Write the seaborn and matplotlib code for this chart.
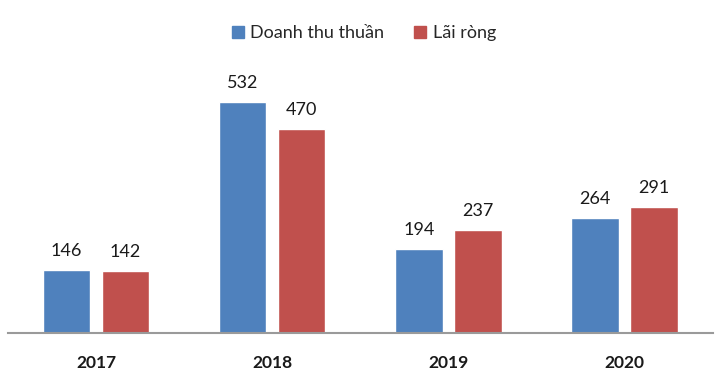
import matplotlib
matplotlib.use("Agg")
import matplotlib.pyplot as plt
import seaborn as sns
import pandas as pd
from matplotlib.lines import Line2D

years = ["2017", "2018", "2019", "2020"]
series_names = ["Doanh thu thuần", "Lãi ròng"]
doanh_thu = [146, 532, 194, 264]
lai_rong = [142, 470, 237, 291]
colors = ["#4F81BD", "#C0504D"]

df = pd.DataFrame({
    "year": years * 2,
    "series": [series_names[0]] * len(years) + [series_names[1]] * len(years),
    "value": doanh_thu + lai_rong,
})

sns.set_theme(style="white")
plt.rcParams["font.family"] = ["Lato", "DejaVu Sans"]

fig = plt.figure(figsize=(7.25, 3.78), dpi=100)
ax = fig.add_axes([0.011, 0.119, 0.972, 0.722])

sns.barplot(data=df, x="year", y="value", hue="series", order=years,
            hue_order=series_names, palette=colors, width=0.67, gap=0.2,
            saturation=1, ax=ax, legend=True)

for cont in ax.containers:
    ax.bar_label(cont, fmt="%d", padding=8, fontsize=13, color="#1a1a1a")

ax.set_ylim(0, 629)
ax.set_xlim(-0.5, 3.5)
ax.set_xlabel("")
ax.set_ylabel("")
ax.set_yticks([])
for s in ["top", "left", "right"]:
    ax.spines[s].set_visible(False)
ax.spines["bottom"].set_color("#9a9a9a")
ax.spines["bottom"].set_linewidth(1.5)
ax.tick_params(axis="x", length=0, pad=16, labelsize=12.5)
for lbl in ax.get_xticklabels():
    lbl.set_fontweight("bold")
    lbl.set_color("#1a1a1a")

ax.legend_.remove()
hs = [Line2D([], [], marker="s", linestyle="", markersize=9, color=c) for c in colors]
fig.legend(hs, series_names, loc="center", bbox_to_anchor=(0.5, 0.912), ncol=2,
           frameon=False, fontsize=13, handletextpad=0.2, columnspacing=1.5,
           handlelength=1.0)

fig.savefig("out.png", dpi=100)
